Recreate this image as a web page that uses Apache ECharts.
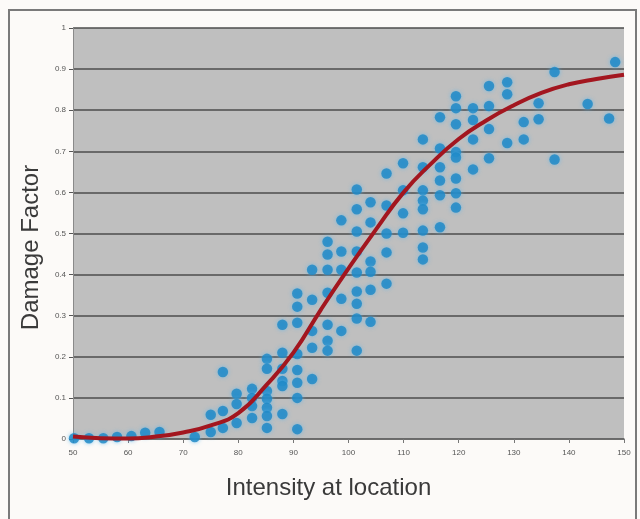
<!DOCTYPE html>
<html>
<head>
<meta charset="utf-8">
<title>Damage Factor vs Intensity</title>
<script src="https://cdn.jsdelivr.net/npm/echarts@6/dist/echarts.min.js"></script>
<style>
  html, body { margin: 0; padding: 0; background: #fcfaf8; }
  #chart { width: 640px; height: 519px; }
</style>
</head>
<body>
<div id="chart"></div>
<script>
// Observed damage factors: intensity at location (x) and damage factor (y)
const obsIntensity = [
  50.2, 52.9, 55.5, 58.0, 60.6, 63.1, 65.7, 72.1,
  75.0, 75.0,
  77.2, 77.2, 77.2,
  79.7, 79.7, 79.7,
  82.5, 82.5, 82.5, 82.5,
  85.2, 85.2, 85.2, 85.2, 85.2, 85.2, 85.2,
  88.0, 88.0, 88.0, 88.0, 88.0, 88.0,
  90.7, 90.7, 90.7, 90.7, 90.7, 90.7, 90.7, 90.7,
  93.4, 93.4, 93.4, 93.4, 93.4,
  96.2, 96.2, 96.2, 96.2, 96.2, 96.2, 96.2,
  98.7, 98.7, 98.7, 98.7, 98.7,
  101.5, 101.5, 101.5, 101.5, 101.5, 101.5, 101.5, 101.5, 101.5,
  104.0, 104.0, 104.0, 104.0, 104.0, 104.0,
  106.9, 106.9, 106.9, 106.9, 106.9,
  109.9, 109.9, 109.9, 109.9,
  113.5, 113.5, 113.5, 113.5, 113.5, 113.5, 113.5, 113.5,
  116.6, 116.6, 116.6, 116.6, 116.6, 116.6,
  119.5, 119.5, 119.5, 119.5, 119.5, 119.5, 119.5, 119.5,
  122.6, 122.6, 122.6, 122.6,
  125.5, 125.5, 125.5, 125.5,
  128.8, 128.8, 128.8,
  131.8, 131.8,
  134.5, 134.5,
  137.4, 137.4,
  143.4, 147.3, 148.4
];
const obsDamage = [
  0.002, 0.002, 0.002, 0.005, 0.007, 0.015, 0.017, 0.005,
  0.059, 0.017,
  0.163, 0.068, 0.027,
  0.110, 0.085, 0.039,
  0.122, 0.100, 0.080, 0.051,
  0.195, 0.171, 0.117, 0.098, 0.076, 0.056, 0.027,
  0.278, 0.210, 0.171, 0.141, 0.129, 0.061,
  0.354, 0.322, 0.283, 0.207, 0.168, 0.137, 0.100, 0.024,
  0.412, 0.339, 0.263, 0.222, 0.146,
  0.480, 0.449, 0.412, 0.356, 0.278, 0.239, 0.215,
  0.532, 0.456, 0.412, 0.341, 0.263,
  0.607, 0.559, 0.505, 0.456, 0.405, 0.359, 0.329, 0.293, 0.215,
  0.576, 0.527, 0.432, 0.407, 0.363, 0.285,
  0.646, 0.568, 0.500, 0.454, 0.378,
  0.671, 0.605, 0.549, 0.502,
  0.729, 0.661, 0.605, 0.580, 0.559, 0.507, 0.466, 0.437,
  0.783, 0.707, 0.661, 0.629, 0.593, 0.515,
  0.834, 0.805, 0.766, 0.698, 0.685, 0.634, 0.598, 0.563,
  0.805, 0.776, 0.729, 0.656,
  0.859, 0.810, 0.754, 0.683,
  0.868, 0.839, 0.720,
  0.771, 0.729,
  0.817, 0.778,
  0.893, 0.680,
  0.815, 0.780, 0.917
];

// Fitted vulnerability curve
const curveIntensity = [50, 55, 60, 65, 70, 75, 80, 85, 90, 95, 100, 105, 110, 115, 120, 125, 130, 135, 140, 145, 150];
const curveDamage = [0.006, 0.002, 0.001, 0.006, 0.016, 0.033, 0.063, 0.13, 0.21, 0.315, 0.415, 0.51, 0.60, 0.67, 0.73, 0.775, 0.812, 0.842, 0.863, 0.876, 0.886];

const xTicks = { min: 50, max: 150, step: 10 };
const yTicks = { min: 0, max: 1, step: 0.1 };

const scatterData = obsIntensity.map((x, i) => [x, obsDamage[i]]);
const curveData = curveIntensity.map((x, i) => [x, curveDamage[i]]);

const chart = echarts.init(document.getElementById('chart'), null, { renderer: 'canvas' });

chart.setOption({
  backgroundColor: '#fcfaf8',
  animation: false,
  graphic: [
    {
      type: 'rect',
      silent: true,
      z: -10,
      shape: { x: 9, y: 10, width: 627, height: 510 },
      style: { fill: 'none', stroke: '#7a7a7a', lineWidth: 2 }
    }
  ],
  grid: {
    left: 73, right: 16, top: 28, bottom: 80,
    show: true,
    backgroundColor: '#bfbfbf',
    borderWidth: 0
  },
  xAxis: {
    type: 'value',
    min: xTicks.min, max: xTicks.max, interval: xTicks.step,
    name: 'Intensity at location',
    nameLocation: 'middle',
    nameGap: 37,
    nameTextStyle: {
      fontFamily: 'Liberation Sans', fontSize: 24, color: '#3a3a3a',
      padding: [0, 40, 0, 0]
    },
    axisLine: { show: true, onZero: false, lineStyle: { color: '#6a6a6a', width: 1.5 } },
    axisTick: { show: true, length: 4, lineStyle: { color: '#777' } },
    axisLabel: { fontFamily: 'Liberation Sans', fontSize: 8, color: '#555', margin: 10 },
    splitLine: { show: false }
  },
  yAxis: {
    type: 'value',
    min: yTicks.min, max: yTicks.max, interval: yTicks.step,
    name: 'Damage Factor',
    nameLocation: 'middle',
    nameGap: 30,
    nameRotate: 90,
    nameTextStyle: {
      fontFamily: 'Liberation Sans', fontSize: 24, color: '#3a3a3a',
      padding: [0, 28, 0, 0]
    },
    axisLine: { show: true, lineStyle: { color: '#8a8a8a', width: 1 } },
    axisTick: { show: true, length: 4, lineStyle: { color: '#555' } },
    axisLabel: {
      fontFamily: 'Liberation Sans', fontSize: 8, color: '#555', margin: 7,
      formatter: v => (Math.round(v * 10) / 10).toString()
    },
    splitLine: { show: true, lineStyle: { color: '#4d4d4d', width: 1.5 } }
  },
  series: [
    {
      type: 'scatter',
      data: scatterData,
      symbol: 'circle',
      symbolSize: 10.5,
      z: 2,
      itemStyle: {
        color: '#1a86c4',
        shadowBlur: 4,
        shadowColor: 'rgba(90,185,240,0.9)'
      }
    },
    {
      type: 'line',
      data: curveData,
      smooth: true,
      showSymbol: false,
      z: 3,
      lineStyle: { color: '#a3161f', width: 4 }
    }
  ]
});
</script>
</body>
</html>
